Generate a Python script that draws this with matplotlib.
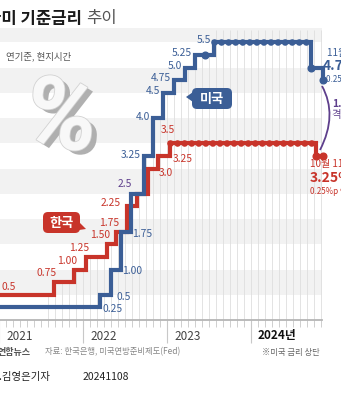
import matplotlib
matplotlib.use('Agg')
import matplotlib.pyplot as plt
import matplotlib.patheffects as pe
from matplotlib.patches import FancyBboxPatch, Polygon, PathPatch
from matplotlib.path import Path
import pandas as pd

plt.rcParams['font.family'] = ['Noto Sans CJK KR', 'DejaVu Sans']

# 한국 기준금리 (결정일, %)
kr_dates = ['2020-05-28', '2021-08-26', '2021-11-25', '2022-01-14', '2022-04-14',
            '2022-05-26', '2022-07-13', '2022-08-25', '2022-10-12', '2022-11-24',
            '2023-01-13', '2024-10-11']
kr_rates = [0.5, 0.75, 1.0, 1.25, 1.5, 1.75, 2.25, 2.5, 3.0, 3.25, 3.5, 3.25]
kr_labels = ['0.5', '0.75', '1.00', '1.25', '1.50', '1.75', '2.25', '', '3.0', '3.25', '3.5', '']

# 미국 기준금리 상단 (현지시간)
us_dates = ['2020-03-16', '2022-03-16', '2022-05-04', '2022-06-15', '2022-07-27',
            '2022-09-21', '2022-11-02', '2022-12-14', '2023-02-01', '2023-03-22',
            '2023-05-03', '2023-07-26', '2024-09-18', '2024-11-07']
us_rates = [0.25, 0.5, 1.0, 1.75, 2.5, 3.25, 4.0, 4.5, 4.75, 5.0, 5.25, 5.5, 5.0, 4.75]
us_labels = ['0.25', '0.5', '1.00', '1.75', '2.5', '3.25', '4.0', '4.5', '4.75',
             '5.0', '5.25', '5.5', '', '']
us_hold_dates = ['2023-06-14']

end_date = '2024-11-08'
year_labels = ['2021', '2022', '2023', '2024년']

BLUE = '#3b5e96'
RED = '#c8342a'
PURPLE = '#5e3f8c'
W, H = 341, 400
PX_DAY = 84 / 365.0

fig = plt.figure(figsize=(W / 100, H / 100), dpi=100)
fig.patch.set_facecolor('white')

t0 = pd.Timestamp('2021-01-01')
x_right = t0 + pd.Timedelta(days=342 / PX_DAY)
ax = fig.add_axes([-1 / W, 1 - 320 / H, 342 / W, 6 * 50.5 / H])
ax.set_xlim(t0, x_right)
ax.set_ylim(0, 6)
ax.axis('off')
grid_frac = 323 / 342
grid_end = t0 + pd.Timedelta(days=323 / PX_DAY)

kd = pd.to_datetime(kr_dates)
ud = pd.to_datetime(us_dates)
end = pd.Timestamp(end_date)
kr_s = pd.Series(kr_rates, index=kd)
us_s = pd.Series(us_rates, index=ud)

# 배경 띠
for lo in [0.5, 1.5, 2.5, 3.5, 4.5, 5.5]:
    ax.axhspan(lo, min(lo + 0.5, 5.78), xmin=0, xmax=grid_frac, color='#f2f2f2', lw=0, zorder=0)

# 월별 세로 격자 (선 아래쪽, 미국 금리 정점 이후는 위까지)
months = pd.date_range('2021-01-01', grid_end, freq='MS')
first_move = kd[1].to_period('M').start_time
for m in months:
    if m < first_move:
        continue
    if m >= ud[11]:
        top = 5.75
    else:
        top = max(kr_s[kr_s.index <= m].iloc[-1], us_s[us_s.index <= m].iloc[-1])
    ax.vlines(m, 0, top, color='#dedede', lw=0.6, zorder=1)
ax.vlines(months, -0.14, 0, color='#c8c8c8', lw=0.6, zorder=1, clip_on=False)
years = pd.date_range('2021-01-01', '2024-01-01', freq='YS')
ax.vlines(years, -0.45, 0, color='#c8c8c8', lw=0.8, zorder=1, clip_on=False)
ax.plot([t0, grid_end], [0, 0], color='#b5b5b5', lw=1.3, zorder=2, clip_on=False)
for d, lab in zip(years, year_labels):
    bold = lab.endswith('년')
    ax.annotate(lab, (d, 0), xytext=(7, -16), textcoords='offset pixels',
                ha='left', va='center', fontsize=8.5,
                color='#111111' if bold else '#444444',
                fontweight='bold' if bold else 'normal')

# 계단선
ax.step(list(kd) + [end], kr_rates + [kr_rates[-1]], where='post', color=RED,
        lw=3, zorder=3, solid_joinstyle='miter')
ax.step(list(ud) + [end], us_rates + [us_rates[-1]], where='post', color=BLUE,
        lw=3, zorder=4, solid_joinstyle='miter')

# 동결 구간 점선
dots = dict(lw=4.8, ls=(0, (0.01, 1.05)), dash_capstyle='round')
ax.plot([kd[10], kd[11]], [kr_rates[10]] * 2, color=RED, zorder=3, **dots)
ax.plot([ud[11], ud[12]], [us_rates[11]] * 2, color=BLUE, zorder=4, **dots)
ax.plot(pd.to_datetime(us_hold_dates), [us_rates[10]], 'o', color=BLUE, ms=4.8, zorder=4)
ax.plot([kd[11], end], [kr_rates[11]] * 2, 'o', color=RED, ms=4.8, zorder=3)
ax.plot([ud[12], ud[13]], [us_rates[12], us_rates[13]], 'o', color=BLUE, ms=4.8, zorder=4)


def lab(date, level, text, color, dx, dy, ha):
    ax.annotate(text, (date, level), xytext=(dx, dy), textcoords='offset pixels',
                ha=ha, va='center', fontsize=7.4, color=color, zorder=6)


# 미국 라벨
for i in range(0, 4):
    lab(ud[i + 1], us_rates[i], us_labels[i], BLUE, [2, 5, 1, 1][i], -2, 'left')
lab(ud[4], us_rates[4], us_labels[4], PURPLE, 1, 10, 'right')
for i in range(5, 12):
    lab(ud[i], us_rates[i], us_labels[i], BLUE, -3, 1 if i < 7 else 2, 'right')

# 한국 라벨
lab(t0, kr_rates[0], kr_labels[0], RED, 3, 8, 'left')
for i in range(1, 6):
    lab(kd[i], kr_rates[i], kr_labels[i], RED, 3, 9, 'right')
lab(kd[6], kr_rates[6], kr_labels[6], RED, -7, 3, 'right')
lab(kd[9], kr_rates[8], kr_labels[8], RED, 0, -4, 'left')
lab(kd[10], kr_rates[9], kr_labels[9], RED, 3, -3, 'left')
lab(kd[10], kr_rates[10], kr_labels[10], RED, -2, 13, 'center')

# 장식용 오버레이 (픽셀 좌표)
ov = fig.add_axes([0, 0, 1, 1], zorder=5)
ov.set_xlim(0, W)
ov.set_ylim(H, 0)
ov.axis('off')
ov.patch.set_alpha(0)

ov.text(-14, 19, '한미 기준금리', fontsize=12, fontweight='bold', color='#1a1a1a',
        ha='left', va='center')
ov.text(86, 19, '추이', fontsize=12, color='#555555', ha='left', va='center',
        fontweight='light')
ov.text(6, 56, '연기준, 현지시간', fontsize=6.8, color='#555555', ha='left', va='center')

ov.text(61, 121, '%', fontsize=74, fontweight='bold', family='Roboto', color='#f8f8f8',
        ha='center', va='center', style='italic',
        path_effects=[pe.SimplePatchShadow(offset=(4, -3), shadow_rgbFace='#a8a8a8', alpha=0.9),
                      pe.withStroke(linewidth=1.2, foreground='#d2d2d2')])


# 말풍선
def bubble(x0, y0, w, h, text, color, tri):
    ov.add_patch(FancyBboxPatch((x0, y0), w, h, boxstyle='round,pad=0,rounding_size=5',
                                fc=color, ec='none'))
    ov.add_patch(Polygon(tri, closed=True, fc=color, ec='none'))
    ov.text(x0 + w / 2, y0 + h / 2, text, fontsize=9.5, fontweight='bold',
            color='white', ha='center', va='center')


bubble(192, 88, 40, 21, '미국', BLUE, [(193, 92), (186, 97), (193, 102)])
bubble(43, 212, 37, 21, '한국', RED, [(79, 222), (86, 229), (79, 230)])

# 오른쪽 주석
ov.text(327, 53, '11월 7일', fontsize=7.2, color=BLUE, ha='left', va='center')
ov.text(323, 66, '4.75%', fontsize=10, fontweight='bold', color=BLUE, ha='left', va='center')
ov.text(326, 80, '0.25%p 인하', fontsize=5.8, color=BLUE, ha='left', va='center')
ov.text(310, 164, '10월 11일', fontsize=7.2, color=RED, ha='left', va='center')
ov.text(310, 178, '3.25%', fontsize=10, fontweight='bold', color=RED, ha='left', va='center')
ov.text(310, 191, '0.25%p 인하', fontsize=5.8, color=RED, ha='left', va='center')
ov.text(332, 104, '1.5%p', fontsize=7.5, fontweight='bold', color=PURPLE, ha='left', va='center')
ov.text(331, 115, '격차', fontsize=7.5, color=PURPLE, ha='left', va='center')
arc = Path([(322, 86), (338, 115), (320, 150)], [Path.MOVETO, Path.CURVE3, Path.CURVE3])
ov.add_patch(PathPatch(arc, fc='none', ec=PURPLE, lw=1.3))

# 하단
ov.text(-2, 352, '연합뉴스', fontsize=6.5, fontweight='bold', color='#555555', ha='left', va='center')
ov.text(45, 352, '자료: 한국은행, 미국연방준비제도(Fed)', fontsize=6, color='#888888',
        ha='left', va='center')
ov.text(262, 352, '※미국 금리 상단', fontsize=6, color='#666666', ha='left', va='center')
ov.text(-4, 377, 'l.김영은기자', fontsize=7.5, color='#222222', ha='left', va='center')
ov.text(83, 377, '20241108', fontsize=7.5, color='#222222', ha='left', va='center')

fig.savefig('out.png', dpi=100, facecolor='white')
